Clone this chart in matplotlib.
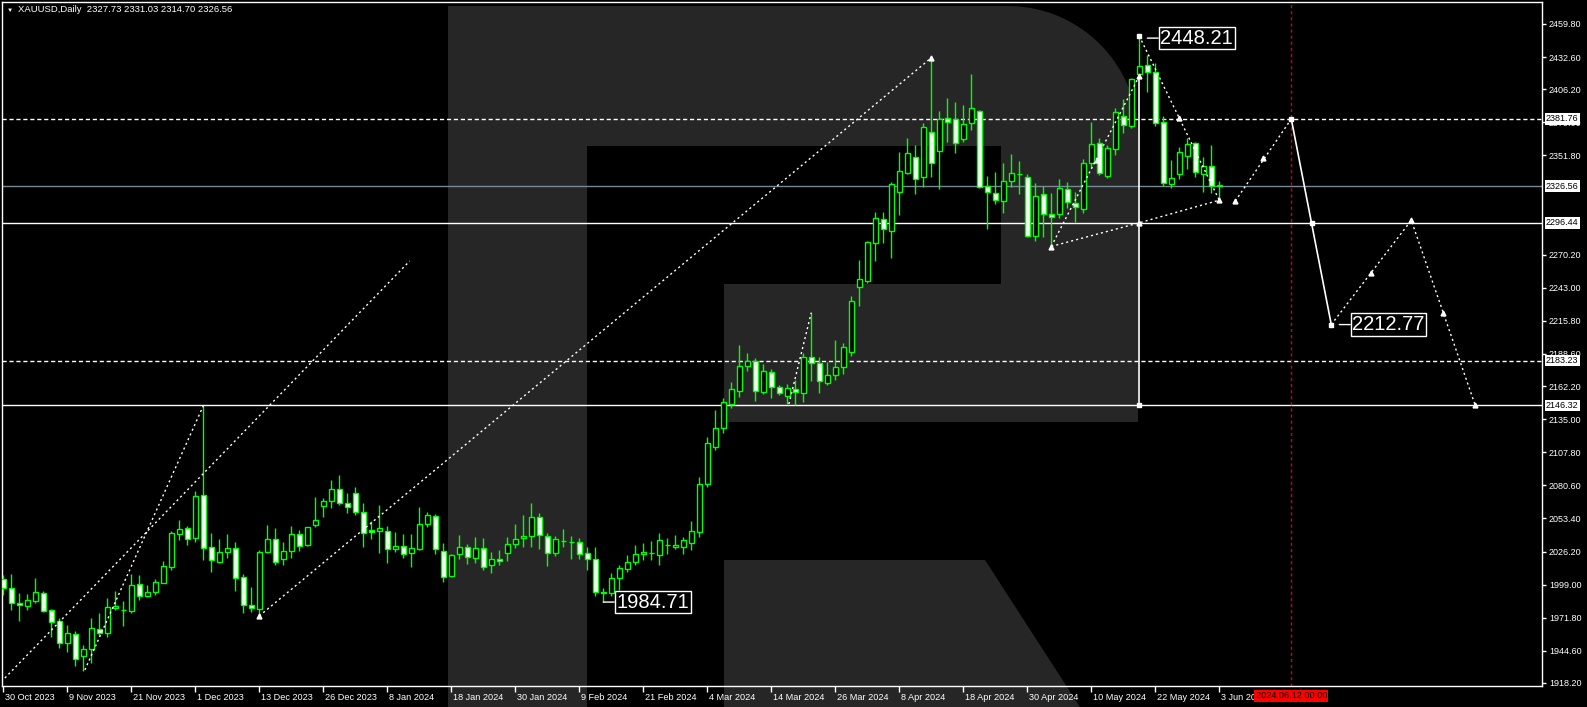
import numpy as np
import matplotlib.pyplot as plt
from matplotlib.patches import Polygon
from matplotlib.transforms import ScaledTranslation

plt.rcParams['font.family'] = ['Liberation Sans', 'DejaVu Sans']

# XAUUSD daily bars, 30 Oct 2023 .. 3 Jun 2024
opens = [2003.4, 1996.0, 1983.7, 1981.8, 1985.9, 1991.9, 1978.2, 1969.2, 1950.8, 1958.2,
         1940.4, 1945.9, 1962.3, 1959.6, 1979.8, 1978.0, 1977.6, 1999.3, 1990.0, 1992.7,
         2000.7, 2013.8, 2040.4, 2045.3, 2037.1, 2072.4, 2029.7, 2017.9, 2025.6, 2028.9,
         2005.0, 1982.0, 1978.7, 2026.1, 2036.3, 2019.9, 2027.0, 2040.4, 2031.6, 2048.0,
         2063.9, 2068.1, 2077.6, 2065.9, 2074.1, 2058.4, 2043.9, 2043.4, 2043.4, 2028.1,
         2030.5, 2024.8, 2028.1, 2048.6, 2055.2, 2027.0, 2006.4, 2024.0, 2029.7, 2021.2,
         2028.9, 2014.9, 2019.9, 2024.8, 2032.2, 2037.1, 2039.3, 2054.6, 2039.0, 2024.8,
         2035.0, 2034.0, 2033.8, 2024.8, 2019.9, 1992.7, 1991.9, 2004.2, 2011.6, 2018.0,
         2024.0, 2024.8, 2023.0, 2031.3, 2030.2, 2030.2, 2033.5, 2042.6, 2081.5, 2112.4,
         2127.5, 2147.2, 2158.4, 2179.0, 2182.8, 2157.6, 2173.5, 2161.2, 2154.4, 2159.6,
         2156.8, 2186.4, 2180.9, 2164.5, 2171.3, 2177.6, 2190.5, 2243.4, 2248.9, 2279.5,
         2299.3, 2289.9, 2322.0, 2337.6, 2350.8, 2333.8, 2370.8, 2355.7, 2382.3, 2381.4,
         2365.0, 2378.2, 2388.3, 2326.9, 2321.2, 2314.6, 2331.0, 2336.2, 2334.3, 2285.8,
         2319.8, 2303.4, 2303.4, 2323.9, 2312.4, 2307.5, 2345.8, 2361.7, 2335.0, 2356.8,
         2384.5, 2376.2, 2418.9, 2425.8, 2420.1, 2379.5, 2328.0, 2336.2, 2351.6, 2361.7,
         2336.2, 2343.4, 2327.73]
highs = [2007.0, 2007.8, 1991.9, 1991.1, 2004.2, 1993.8, 1979.3, 1971.3, 1965.9, 1961.0,
         1949.4, 1971.3, 1975.5, 1987.8, 1993.8, 1985.6, 2007.8, 2007.0, 1998.7, 2003.4,
         2018.5, 2043.4, 2052.2, 2047.5, 2076.3, 2146.1, 2041.2, 2036.3, 2040.4, 2033.8,
         2007.8, 1996.8, 2027.5, 2048.1, 2045.9, 2033.8, 2047.5, 2044.0, 2046.7, 2071.3,
         2069.9, 2085.0, 2089.1, 2074.6, 2079.0, 2065.9, 2051.6, 2064.5, 2047.2, 2042.0,
         2040.7, 2040.7, 2063.1, 2059.0, 2056.8, 2033.0, 2024.2, 2039.8, 2032.4, 2037.9,
         2037.1, 2025.6, 2027.5, 2037.9, 2048.9, 2056.3, 2066.1, 2057.6, 2041.2, 2039.0,
         2044.8, 2039.3, 2037.6, 2030.2, 2030.2, 1996.0, 2008.9, 2015.2, 2023.4, 2031.6,
         2033.0, 2034.9, 2041.2, 2037.6, 2039.8, 2038.4, 2051.3, 2087.8, 2120.1, 2142.6,
         2152.2, 2165.9, 2195.9, 2189.7, 2185.0, 2180.1, 2176.2, 2163.1, 2163.9, 2167.2,
         2189.1, 2222.6, 2185.8, 2181.7, 2200.1, 2197.3, 2236.3, 2265.8, 2281.8, 2305.6,
         2305.6, 2330.2, 2354.9, 2366.4, 2360.3, 2378.2, 2432.9, 2388.3, 2398.7, 2395.9,
         2393.2, 2418.7, 2389.1, 2334.9, 2337.9, 2345.3, 2352.9, 2347.2, 2336.5, 2328.8,
         2326.7, 2320.6, 2332.1, 2330.2, 2321.4, 2348.6, 2379.5, 2365.8, 2360.4, 2390.5,
         2397.9, 2415.2, 2450.0, 2434.3, 2427.5, 2384.2, 2348.0, 2358.9, 2365.8, 2362.6,
         2350.8, 2360.4, 2331.03]
lows = [1990.5, 1978.2, 1969.4, 1978.2, 1983.7, 1976.8, 1956.3, 1946.7, 1944.0, 1932.2,
        1928.3, 1934.9, 1957.6, 1956.3, 1978.2, 1965.0, 1975.5, 1986.4, 1989.2, 1990.5,
        2000.1, 2011.1, 2035.7, 2031.6, 2034.4, 2019.3, 2009.7, 2017.1, 2020.7, 1994.1,
        1975.5, 1976.8, 1973.3, 2024.8, 2015.2, 2015.2, 2020.7, 2027.0, 2030.8, 2046.1,
        2054.4, 2061.8, 2064.5, 2058.2, 2056.3, 2030.2, 2036.3, 2024.8, 2016.6, 2026.1,
        2020.7, 2013.3, 2027.8, 2046.1, 2024.2, 2001.5, 2005.6, 2020.1, 2016.0, 2016.6,
        2011.1, 2008.9, 2015.2, 2018.7, 2028.9, 2030.2, 2029.7, 2028.1, 2014.6, 2022.6,
        2030.2, 2020.1, 2020.1, 2011.1, 1989.7, 1984.71, 1989.7, 1994.6, 2009.7, 2015.2,
        2019.3, 2019.3, 2015.2, 2024.2, 2028.3, 2024.2, 2027.5, 2038.4, 2079.6, 2109.7,
        2123.4, 2143.9, 2153.5, 2174.9, 2150.2, 2155.7, 2152.7, 2154.9, 2147.5, 2146.7,
        2149.4, 2166.7, 2156.8, 2163.1, 2167.2, 2172.1, 2186.9, 2228.0, 2246.6, 2265.3,
        2280.1, 2267.7, 2302.8, 2336.5, 2319.8, 2325.6, 2333.8, 2324.2, 2363.1, 2354.0,
        2363.1, 2372.7, 2324.8, 2291.3, 2311.6, 2304.7, 2326.1, 2319.8, 2284.5, 2281.7,
        2285.0, 2277.0, 2300.1, 2308.3, 2297.3, 2304.7, 2342.6, 2335.7, 2333.2, 2352.1,
        2370.5, 2374.1, 2416.5, 2404.2, 2376.0, 2326.7, 2325.3, 2332.1, 2340.4, 2334.3,
        2322.0, 2320.6, 2314.70]
closes = [1996.0, 1983.7, 1982.0, 1986.4, 1992.7, 1977.6, 1968.6, 1950.8, 1959.0, 1937.7,
          1945.9, 1963.1, 1959.6, 1980.9, 1981.4, 1978.3, 1998.7, 1990.0, 1993.0, 2001.2,
          2014.4, 2041.2, 2044.8, 2036.3, 2071.9, 2028.9, 2019.0, 2025.6, 2028.9, 2004.2,
          1982.0, 1979.6, 2026.1, 2036.3, 2017.9, 2027.0, 2040.7, 2031.1, 2046.1, 2052.1,
          2067.9, 2077.6, 2065.9, 2062.6, 2059.0, 2041.2, 2042.0, 2045.6, 2028.1, 2030.5,
          2023.9, 2028.9, 2048.6, 2056.0, 2028.1, 2005.6, 2023.1, 2029.7, 2021.5, 2028.9,
          2013.8, 2019.9, 2018.2, 2032.2, 2036.3, 2039.0, 2054.6, 2039.8, 2024.8, 2036.3,
          2034.8, 2034.2, 2024.0, 2019.9, 1992.7, 1992.4, 2004.2, 2012.4, 2017.4, 2024.2,
          2025.6, 2024.9, 2035.4, 2031.4, 2031.6, 2035.4, 2043.4, 2081.5, 2115.2, 2127.5,
          2148.9, 2159.6, 2178.7, 2182.8, 2158.4, 2174.6, 2161.7, 2156.3, 2160.4, 2157.6,
          2185.8, 2180.9, 2166.4, 2171.0, 2177.6, 2194.6, 2232.4, 2249.9, 2280.4, 2300.1,
          2291.0, 2328.0, 2338.7, 2353.5, 2332.1, 2374.9, 2345.3, 2381.4, 2379.0, 2361.7,
          2377.3, 2390.5, 2325.6, 2321.5, 2315.1, 2331.0, 2337.1, 2336.4, 2285.6, 2318.4,
          2303.4, 2300.9, 2324.7, 2313.8, 2309.1, 2345.3, 2360.9, 2337.1, 2357.6, 2387.2,
          2376.8, 2414.3, 2425.3, 2420.6, 2378.2, 2328.8, 2332.9, 2354.3, 2360.9, 2337.9,
          2343.1, 2326.7, 2326.56]

date_labels = ["30 Oct 2023", "9 Nov 2023", "21 Nov 2023", "1 Dec 2023", "13 Dec 2023",
               "26 Dec 2023", "8 Jan 2024", "18 Jan 2024", "30 Jan 2024", "9 Feb 2024",
               "21 Feb 2024", "4 Mar 2024", "14 Mar 2024", "26 Mar 2024", "8 Apr 2024",
               "18 Apr 2024", "30 Apr 2024", "10 May 2024", "22 May 2024", "3 Jun 2024"]
# scale labels (2324.60 / 2297.40 sit fully under the level boxes, so left out)
price_ticks = [2459.80, 2432.60, 2406.20, 2379.00, 2351.80, 2270.20,
               2243.00, 2215.80, 2188.60, 2162.20, 2135.00, 2107.80, 2080.60, 2053.40,
               2026.20, 1999.00, 1971.80, 1944.60, 1918.20]

# horizontal levels
dashed_levels = [2381.76, 2183.23]
solid_levels = [2296.44, 2146.32]
bid_price = 2326.56
future_bar = 161
future_label = "2024.06.12 00:00"

# wave markup (bar index, price)
dotted_segments = [
    [(0.2, 1922.3), (50.8, 2265.0)],
    [(10.2, 1929.0), (25.0, 2146.0)],
    [(32.0, 1973.3), (116.0, 2432.0)],
    [(98.2, 2147.5), (101.0, 2222.6)],
    [(131.0, 2277.0), (142.0, 2296.4), (152.0, 2315.0)],
    [(131.0, 2277.0), (142.0, 2417.0)],
    [(142.0, 2449.9), (152.0, 2315.0)],
    [(154.0, 2314.3), (161.0, 2381.76)],
    [(166.0, 2212.77), (176.0, 2298.5), (184.0, 2146.3)],
]
solid_segments = [
    [(142.0, 2417.0), (142.0, 2146.32)],
    [(161.0, 2381.76), (166.0, 2212.77)],
]
arrow_x = [32, 116, 131, 142, 142, 136.7, 147, 152, 154, 157.5, 171, 176, 180, 184]
arrow_y = [1973.3, 2431.6, 2276.8, 2296.4, 2417.1, 2348.0, 2382.8, 2315.0, 2314.3,
           2349.4, 2255.4, 2298.5, 2222.6, 2146.3]
square_x = [142, 161, 163.6, 166, 142]
square_y = [2449.9, 2381.76, 2296.44, 2212.77, 2146.32]
big_labels = [(143, 2448.21), (75, 1984.71), (167, 2212.77)]

W, H = 1587, 707
fig = plt.figure(figsize=(W / 100, H / 100), dpi=100, facecolor='black')
ax = fig.add_axes([2 / W, 21 / H, 1540 / W, 684 / H])
ax.set_facecolor('black')
ax.set_xlim(-0.16, 192.34)
ax.set_ylim(1915.73, 2477.88)


def fig_poly(pts):
    a = np.array(pts, float)
    return np.column_stack([a[:, 0] / W, 1 - a[:, 1] / H])


# background "R" watermark
wm = '#262626'
t = np.linspace(np.pi / 2, 0, 30)
arc = [(1008 + 130 * np.cos(a), 136 - 130 * np.sin(a)) for a in t]
bowl = [(587, 6)] + arc + [(1138, 422), (724, 422), (724, 284), (1001, 284), (1001, 146), (587, 146)]
shapes = [
    [(448, 6), (587, 6), (587, 707), (448, 707)],
    bowl,
    [(724, 560), (985, 560), (1080, 707), (724, 707)],
]
for s in shapes:
    ax.add_patch(Polygon(fig_poly(s), closed=True, fc=wm, ec='none',
                         transform=fig.transFigure, clip_on=False, zorder=0.5))

# levels
for v in dashed_levels:
    ax.axhline(v, color='white', lw=1, ls=(0, (3, 2)), zorder=2)
for v in solid_levels:
    ax.axhline(v, color='white', lw=1, zorder=2)
ax.axhline(bid_price, color='#778899', lw=1, zorder=2)
ax.axvline(future_bar, color='#e00000', lw=1, ls=(0, (2.2, 2.2)), zorder=2)

# candles
o, h, l, c = map(np.array, (opens, highs, lows, closes))
idx = np.arange(len(o))
up = c >= o
ax.vlines(idx, l, h, color='#00ff00', lw=1, zorder=3)
bot = np.minimum(o, c)
hgt = np.abs(c - o)
ax.bar(idx[up], hgt[up], bottom=bot[up], width=0.6, color='black',
       edgecolor='#00ff00', lw=1, zorder=4)
ax.bar(idx[~up], hgt[~up], bottom=bot[~up], width=0.6, color='white',
       edgecolor='#00ff00', lw=1, zorder=4)

# wave markup
for seg in dotted_segments:
    xs, ys = zip(*seg)
    ax.plot(xs, ys, color='white', lw=1, ls=(0, (1.5, 2.2)), zorder=5)
for seg in solid_segments:
    xs, ys = zip(*seg)
    ax.plot(xs, ys, color='white', lw=1.2, zorder=5)
ax.plot(arrow_x, arrow_y, ls='none', marker='^', ms=3.5, color='white', zorder=6)
ax.plot(square_x, square_y, ls='none', marker='s', ms=3.5, color='white', zorder=6)

for bx, val in big_labels:
    ax.annotate(f'{val:.2f}', xy=(bx, val), xytext=(13, 0), textcoords='offset pixels',
                ha='left', va='center', fontsize=14.5, color='white', zorder=7,
                bbox=dict(boxstyle='square,pad=0.08', fc='black', ec='white', lw=1),
                arrowprops=dict(arrowstyle='-', color='white', lw=1, shrinkA=0, shrinkB=0))

# axes styling
for sp in ax.spines.values():
    sp.set_color('white')
    sp.set_linewidth(1)

ax.set_xticks(idx[::8], date_labels, ha='left')
ax.tick_params(axis='x', colors='white', length=4, width=1, labelsize=6.6, pad=1)
for lab in ax.get_xticklabels():
    lab.set_transform(lab.get_transform() + ScaledTranslation(2 / 100, 0, fig.dpi_scale_trans))

ax.yaxis.tick_right()
ax.set_yticks(price_ticks, [f'{v:.2f}' for v in price_ticks])
ax.tick_params(axis='y', colors='white', length=3, width=1, labelsize=6.5, pad=2)

for v in dashed_levels + solid_levels + [bid_price]:
    ax.annotate(f'{v:.2f}', xy=(1, v), xycoords=('axes fraction', 'data'),
                xytext=(4, 0), textcoords='offset pixels', ha='left', va='center',
                fontsize=6.5, color='black', annotation_clip=False, zorder=8,
                bbox=dict(boxstyle='square,pad=0.15', fc='white', ec='none'))

ax.annotate(future_label, xy=(future_bar, 0), xycoords=('data', 'axes fraction'),
            xytext=(0, -10), textcoords='offset pixels', ha='center', va='center',
            fontsize=6.6, color='black', annotation_clip=False, zorder=8,
            bbox=dict(boxstyle='square,pad=0.15', fc='#ff0000', ec='none'))

# header
fig.text(7 / W, 1 - 10 / H, '\u25bc', color='white', fontsize=4.5, va='center')
fig.text(18 / W, 1 - 10 / H, 'XAUUSD,Daily  2327.73 2331.03 2314.70 2326.56',
         color='white', fontsize=6.8, va='center')

fig.savefig('out.png', dpi=100, facecolor='black')
